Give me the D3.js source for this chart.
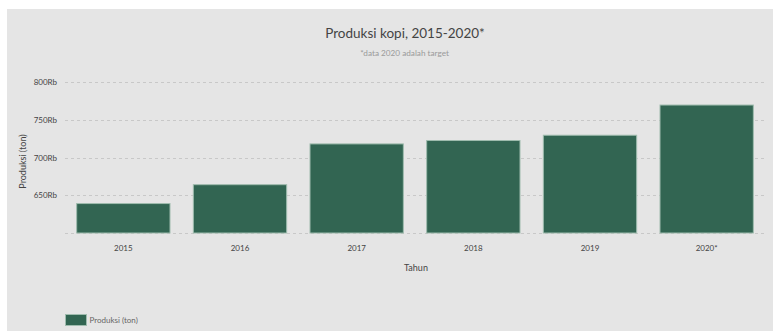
<!DOCTYPE html>
<html>
<head>
<meta charset="utf-8">
<script src="https://cdn.jsdelivr.net/npm/d3@7"></script>
<style>
  body { margin: 0; background: #fff; }
  svg { display: block; font-family: Lato, "Open Sans", sans-serif; }
</style>
</head>
<body>
<svg id="chart"></svg>
<script>
// Produksi kopi Indonesia (ton), 2020 = target
const years = ["2015", "2016", "2017", "2018", "2019", "2020*"];
const production = [639000, 664000, 718000, 722500, 729500, 769500];
const yTicks = [650000, 700000, 750000, 800000];

const W = 773, H = 331;
const margin = { top: 82, right: 8, bottom: 98, left: 65 };

const svg = d3.select("#chart").attr("width", W).attr("height", H);

svg.append("rect")
  .attr("x", 7).attr("y", 9)
  .attr("width", W - 7).attr("height", H - 9)
  .attr("fill", "#e5e5e5");

const x = d3.scaleBand()
  .domain(years)
  .range([margin.left, W - margin.right])
  .paddingInner(0.2)
  .paddingOuter(0.1);

const y = d3.scaleLinear()
  .domain([600000, 800000])
  .range([H - margin.bottom, margin.top]);

// grid lines
svg.append("g")
  .selectAll("line")
  .data([600000].concat(yTicks))
  .join("line")
  .attr("x1", margin.left)
  .attr("x2", W - margin.right)
  .attr("y1", d => Math.round(y(d)) + 0.5)
  .attr("y2", d => Math.round(y(d)) + 0.5)
  .attr("stroke", "#c8c8c8")
  .attr("stroke-dasharray", "3,3");

// y axis labels
const yAxis = svg.append("g")
  .attr("transform", `translate(${margin.left},0)`)
  .call(d3.axisLeft(y).tickValues(yTicks).tickSize(0).tickPadding(8)
    .tickFormat(d => d / 1000 + "Rb"));
yAxis.select(".domain").remove();
yAxis.selectAll("text").attr("fill", "#444").style("font-size", "8px")
  .style("font-family", "Lato, sans-serif");

// bars
svg.append("g")
  .selectAll("rect")
  .data(years.map((d, i) => ({ year: d, value: production[i] })))
  .join("rect")
  .attr("x", d => x(d.year))
  .attr("width", x.bandwidth())
  .attr("y", d => y(d.value))
  .attr("height", d => y(600000) - y(d.value))
  .attr("fill", "#326552")
  .attr("stroke", "#9fbcae")
  .attr("stroke-width", 1);

// x axis labels
const xAxis = svg.append("g")
  .attr("transform", `translate(0,${H - margin.bottom})`)
  .call(d3.axisBottom(x).tickSize(0).tickPadding(12));
xAxis.select(".domain").remove();
xAxis.selectAll("text").attr("fill", "#444").style("font-size", "8px")
  .style("font-family", "Lato, sans-serif");

// titles
svg.append("text")
  .attr("x", 405).attr("y", 38)
  .attr("text-anchor", "middle")
  .attr("fill", "#444")
  .style("font-size", "13.5px")
  .text("Produksi kopi, 2015-2020*");

svg.append("text")
  .attr("x", 404.5).attr("y", 56)
  .attr("text-anchor", "middle")
  .attr("fill", "#9a9a9a")
  .style("font-size", "8.2px")
  .text("*data 2020 adalah target");

svg.append("text")
  .attr("x", 416).attr("y", 270.5)
  .attr("text-anchor", "middle")
  .attr("fill", "#444")
  .style("font-size", "9px")
  .text("Tahun");

svg.append("text")
  .attr("transform", `translate(26,${(y(600000) + y(800000)) / 2 + 4}) rotate(-90)`)
  .attr("text-anchor", "middle")
  .attr("fill", "#444")
  .style("font-size", "9px")
  .text("Produksi (ton)");

// legend
svg.append("rect")
  .attr("x", 65.5).attr("y", 314.5)
  .attr("width", 21).attr("height", 11)
  .attr("fill", "#326552")
  .attr("stroke", "#9fbcae");
svg.append("text")
  .attr("x", 89.5).attr("y", 322.5)
  .attr("fill", "#666")
  .style("font-size", "8px")
  .text("Produksi (ton)");
</script>
</body>
</html>
